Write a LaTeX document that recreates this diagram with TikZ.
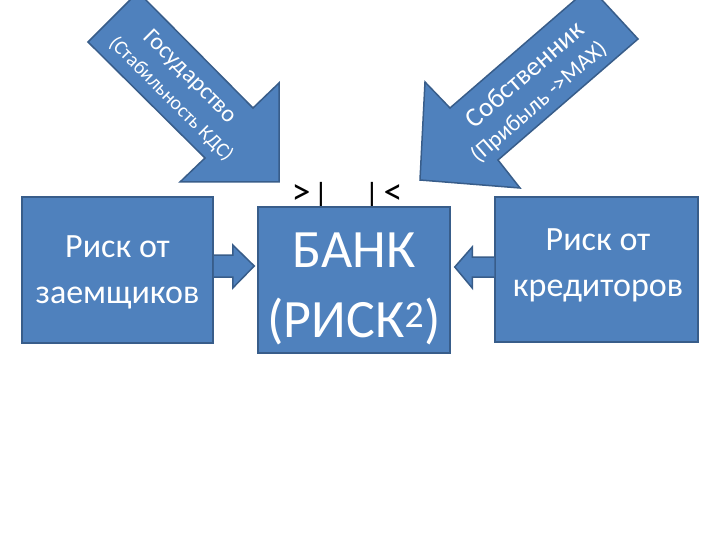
\documentclass[tikz,border=0pt]{standalone}
\usepackage{fontspec}
\setmainfont{Carlito}
\usetikzlibrary{calc}
\definecolor{boxfill}{HTML}{4F81BD}
\definecolor{boxline}{HTML}{385D8A}
\begin{document}
\begin{tikzpicture}[x=1pt,y=1pt,
  box/.style={draw=boxline, line width=1.5pt, fill=boxfill, inner sep=0pt},
  blk/.style={draw=boxline, line width=1.5pt, fill=boxfill, line join=miter},
  wtxt/.style={text=white, inner sep=0pt},
  btxt/.style={text=black, inner sep=0pt, anchor=base, font=\fontsize{32}{38}\selectfont},
  ctxt/.style={text=black, inner sep=0pt, anchor=base, font=\fontsize{38}{44}\selectfont},
]
\useasboundingbox (0,0) rectangle (720,-540);
\clip (0,0) rectangle (720,-540);
\fill[white] (0,0) rectangle (720,-540);

% big diagonal arrows
\draw[blk] (88,-42) -- (205,-158) -- (180,-182) -- (279,-182) -- (279,-83) -- (253,-108) -- (138,8) -- cycle;
\node[wtxt, rotate=-45, font=\fontsize{24}{28}\selectfont] (gov1) at (190,-77) {Государство};
\node[wtxt, rotate=-45, font=\fontsize{20}{24}\selectfont] (gov2) at (171,-99) {(Стабильность КДС)};

\draw[blk] (420,-180) -- (425,-82) -- (450,-108) -- (590,13) -- (638,-39) -- (498,-160) -- (520,-188) -- cycle;
\node[wtxt, rotate=41, font=\fontsize{27}{32}\selectfont] (own1) at (524,-74) {Собственник};
\node[wtxt, rotate=41, font=\fontsize{23}{28}\selectfont] (own2) at (539,-102) {(Прибыль ->MAX)};

% marks above the bank
\node[ctxt] (m1) at (301,-205) {>};
\node[btxt] (m2) at (321,-206) {|};
\node[btxt] (m3) at (372,-206) {|};
\node[ctxt] (m4) at (393,-205) {<};

% boxes
\node[box, minimum width=191pt, minimum height=146pt] (borrow) at (117.5,-270) {};
\node[box, minimum width=192pt, minimum height=146pt] (bank) at (354,-280) {};
\node[box, minimum width=203pt, minimum height=145pt] (lend) at (596.5,-269.5) {};

\node[wtxt, anchor=base, font=\fontsize{34}{40}\selectfont] (bt1) at (117.5,-258) {Риск от};
\node[wtxt, anchor=base, font=\fontsize{34}{40}\selectfont] (bt2) at (117.5,-303) {заемщиков};
\node[wtxt, anchor=base, font=\fontsize{54}{60}\selectfont] (kt1) at (354,-267) {БАНК};
\node[wtxt, anchor=base, font=\fontsize{54}{60}\selectfont] (kt2) at (354,-337) {(РИСК\textsuperscript{2})};
\node[wtxt, anchor=base, font=\fontsize{34}{40}\selectfont] (lt1) at (598,-251) {Риск от};
\node[wtxt, anchor=base, font=\fontsize{34}{40}\selectfont] (lt2) at (598,-296) {кредиторов};

% small block arrows
\draw[blk] ($(borrow.east)+(0,15)$) -- ++(19,0) -- ++(0,10) -- ($(bank.west)+(-3,14)$)
  -- ($(borrow.east)+(19,-18)$) -- ++(0,11) -- ($(borrow.east)+(0,-7)$);
\draw[blk] ($(lend.west)+(0,12.5)$) -- ++(-22,0) -- ++(0,10) -- ($(bank.east)+(4,13)$)
  -- ($(lend.west)+(-22,-18.5)$) -- ++(0,11) -- ($(lend.west)+(0,-7.5)$);
\end{tikzpicture}
\end{document}
